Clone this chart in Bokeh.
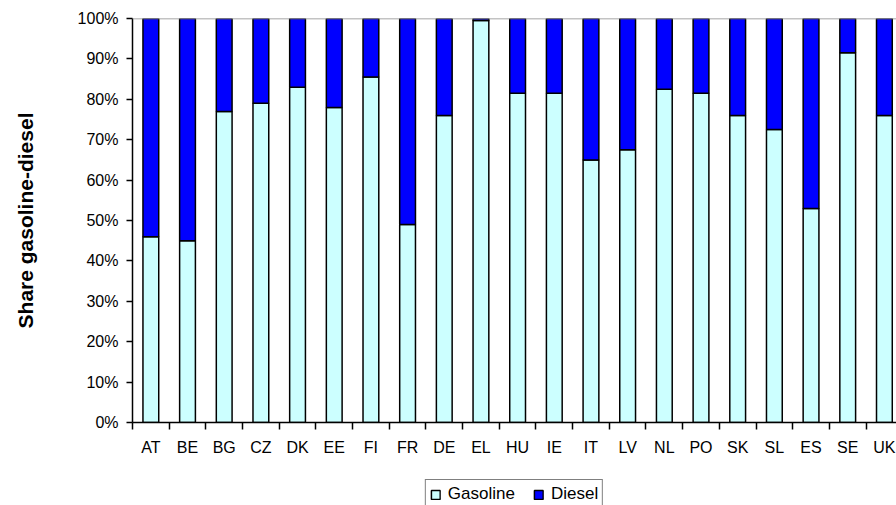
from bokeh.plotting import figure
from bokeh.models import (ColumnDataSource, Range1d, FixedTicker, PrintfTickFormatter,
                          CustomJSTickFormatter, Legend, LegendItem, Span)
from bokeh.layouts import column
from bokeh.embed import file_html
from bokeh.resources import INLINE

countries = ["AT", "BE", "BG", "CZ", "DK", "EE", "FI", "FR", "DE", "EL", "HU",
             "IE", "IT", "LV", "NL", "PO", "SK", "SL", "ES", "SE", "UK"]
gasoline = [46, 45, 77, 79, 83, 78, 85.5, 49, 76, 99.5, 81.5,
            81.5, 65, 67.5, 82.5, 81.5, 76, 72.5, 53, 91.5, 76]
diesel = [54, 55, 23, 21, 17, 22, 14.5, 51, 24, 0.5, 18.5,
          18.5, 35, 32.5, 17.5, 18.5, 24, 27.5, 47, 8.5, 24]
y_ticks = [0, 10, 20, 30, 40, 50, 60, 70, 80, 90, 100]
series = ["gasoline", "diesel"]
series_labels = ["Gasoline", "Diesel"]
series_colors = ["#CCFFFF", "#0000FF"]

FONT = "Liberation Sans"

xs = [i + 0.5 for i in range(len(countries))]
source = ColumnDataSource(dict(x=xs, country=countries, gasoline=gasoline, diesel=diesel))

# ---------------- main chart ----------------
p = figure(frame_width=764, frame_height=404, output_backend="svg", toolbar_location=None,
           x_range=Range1d(0, 20.83), y_range=Range1d(0, 100),
           min_border_left=132, min_border_right=0, min_border_top=18, min_border_bottom=50)

p.vbar_stack(series, x="x", width=0.43, source=source,
             fill_color=series_colors, line_color="black", line_width=1.5)

p.xgrid.visible = False
p.ygrid.visible = False
p.background_fill_color = "white"
p.border_fill_color = "white"
p.outline_line_color = None

top_line = Span(location=100, dimension="width", line_color="#888888", line_width=1.5)
p.add_layout(top_line)

# y axis
p.yaxis.ticker = FixedTicker(ticks=y_ticks)
p.yaxis.formatter = PrintfTickFormatter(format="%d%%")
p.yaxis.axis_label = "Share gasoline-diesel"
p.yaxis.axis_label_text_font = FONT
p.yaxis.axis_label_text_font_size = "21px"
p.yaxis.axis_label_text_font_style = "bold"
p.yaxis.axis_label_text_color = "black"
p.yaxis.axis_label_standoff = 38
p.yaxis.major_tick_out = 6
p.yaxis.major_tick_in = 0
p.yaxis.minor_tick_out = 0
p.yaxis.minor_tick_in = 0
p.yaxis.major_label_standoff = 8

# x axis: ticks at category boundaries, labels at centres
p.xaxis.ticker = FixedTicker(ticks=xs, minor_ticks=list(range(len(countries) + 1)))
p.xaxis.formatter = CustomJSTickFormatter(args=dict(names=countries),
                                          code="const i = Math.floor(tick); return names[i] || '';")
p.xaxis.major_tick_out = 0
p.xaxis.major_tick_in = 0
p.xaxis.minor_tick_out = 7
p.xaxis.minor_tick_in = 0
p.xaxis.major_label_standoff = 9

for ax in (p.xaxis, p.yaxis):
    ax.axis_line_color = "black"
    ax.axis_line_width = 1.5
    ax.major_tick_line_color = "black"
    ax.major_tick_line_width = 1.5
    ax.minor_tick_line_color = "black"
    ax.minor_tick_line_width = 1.5
    ax.major_label_text_font = FONT
    ax.major_label_text_font_size = "16px"
    ax.major_label_text_color = "black"

# ---------------- legend strip ----------------
lg = figure(frame_width=764, frame_height=33, output_backend="svg", toolbar_location=None,
            x_range=Range1d(0, 20.83), y_range=Range1d(0, 100),
            min_border_left=132, min_border_right=0, min_border_top=0, min_border_bottom=0)
lg.axis.visible = False
lg.xgrid.visible = False
lg.ygrid.visible = False
lg.outline_line_color = None
lg.background_fill_color = "white"
lg.border_fill_color = "white"

legend_renderers = lg.vbar_stack(series, x="x", width=0.43, source=source,
                                 fill_color=series_colors, line_color="black", line_width=1.5)
for r in legend_renderers:
    r.visible = False

legend = Legend(items=[LegendItem(label=lab, renderers=[r])
                       for lab, r in zip(series_labels, legend_renderers)],
                orientation="horizontal", location="top_center")
legend.label_text_font = FONT
legend.label_text_font_size = "17px"
legend.label_text_color = "black"
legend.label_height = 18
legend.glyph_width = 11
legend.glyph_height = 11
legend.label_standoff = 7
legend.spacing = 18
legend.padding = 4
legend.margin = 7
legend.border_line_color = "black"
legend.border_line_width = 1.5
legend.background_fill_alpha = 1
legend.inactive_fill_alpha = 0
legend.click_policy = "none"
lg.add_layout(legend)

layout = column(p, lg, spacing=0)

open("out.html", "w").write(file_html(layout, INLINE))
